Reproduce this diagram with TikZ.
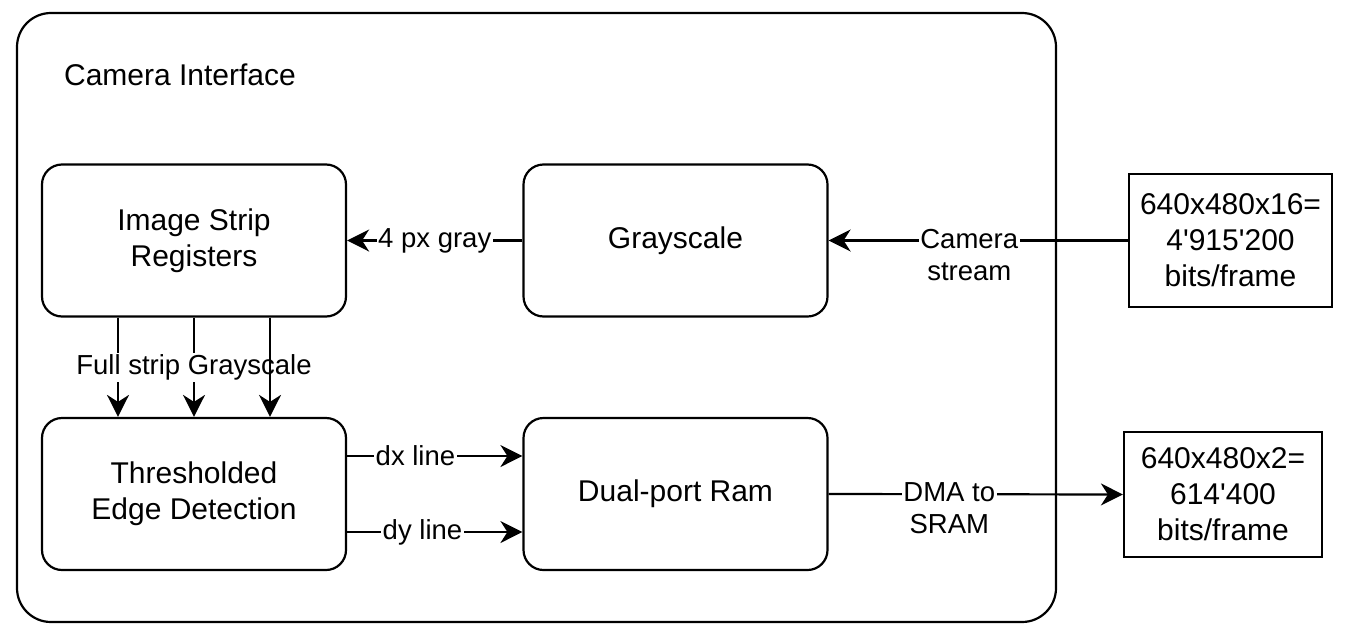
\documentclass[tikz,border=0pt]{standalone}
\usepackage{fontspec}
\setmainfont{Liberation Sans}
\usetikzlibrary{positioning,arrows.meta}

\begin{document}
\begin{tikzpicture}[x=0.5pt,y=-0.5pt,line width=1.1pt,
  >={Stealth[length=11pt,width=11pt,inset=3.5pt]},
  every node/.style={font=\fontsize{15}{18}\selectfont},
  block/.style={draw,rounded corners=10pt,minimum width=152pt,minimum height=76pt,align=center,inner sep=2pt},
  databox/.style={draw,align=center,inner sep=2pt},
  lbl/.style={fill=white,inner sep=0.8pt,align=center,font=\fontsize{13.75}{16}\selectfont}]
\useasboundingbox (0,0) rectangle (1358,637);

%outer interface frame
\node[draw,rounded corners=17pt,minimum width=519.5pt,minimum height=304.5pt] (iface) at (536.5,317.5) {};
\node[anchor=west,inner sep=0pt] (title) at (63,75) {Camera Interface};

%blocks inside
\node[block] (isr) at (194,240.5) {Image Strip\\Registers};
\node[block] (gray) at (675.5,240.5) {Grayscale};
\node[block] (ted) at (194,494) {Thresholded\\Edge Detection};
\node[block] (ram) at (675.5,494) {Dual-port Ram};

%data boxes on the right
\node[databox,minimum width=101.5pt,minimum height=66.5pt] (inbox) at (1230.5,240.5) {640x480x16=\\4\textquotesingle915\textquotesingle200\\bits/frame};
\node[databox,minimum width=99pt,minimum height=62.5pt] (outbox) at (1223,494.5) {640x480x2=\\614\textquotesingle400\\bits/frame};

%connectors
\draw[->] (inbox.west) -- node[lbl,pos=0.53,anchor=north,yshift=7pt] {Camera\\stream} (gray.east);
\draw[->] (gray.west) -- node[lbl] {4 px gray} (isr.east);
\draw[->] ([xshift=-38pt]isr.south) -- ([xshift=-38pt]ted.north);
\draw[->] (isr.south) -- node[lbl] {Full strip Grayscale} (ted.north);
\draw[->] ([xshift=38pt]isr.south) -- ([xshift=38pt]ted.north);
\draw[->] ([yshift=19pt]ted.east) -- node[lbl,pos=0.39] {dx line} ([yshift=19pt]ram.west);
\draw[->] ([yshift=-19pt]ted.east) -- node[lbl,pos=0.43] {dy line} ([yshift=-19pt]ram.west);
\draw[->] (ram.east) -- node[lbl,pos=0.41,anchor=north,yshift=7pt] {DMA to\\SRAM} (outbox.west);
\end{tikzpicture}
\end{document}
